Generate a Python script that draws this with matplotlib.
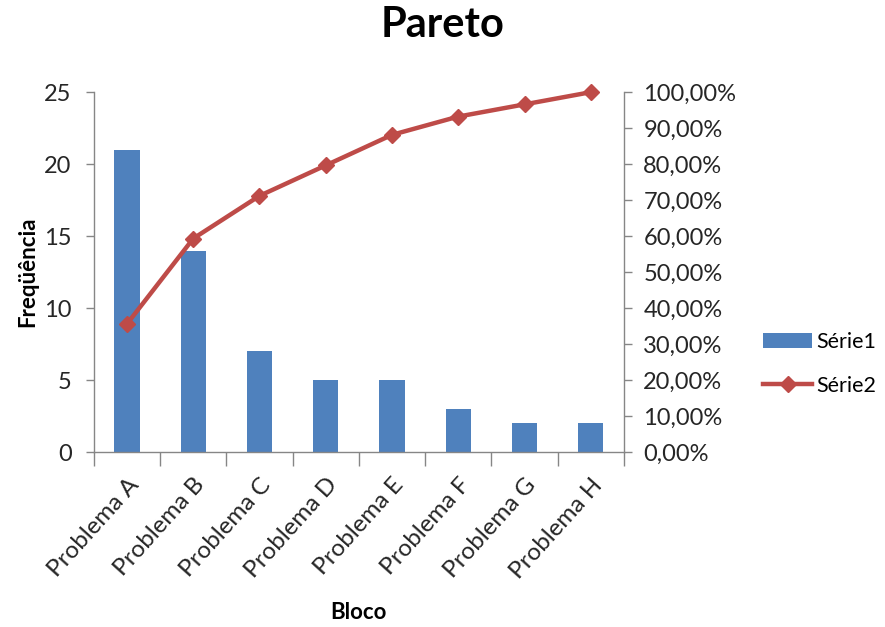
import matplotlib
matplotlib.use("Agg")
import matplotlib.pyplot as plt
import numpy as np
from matplotlib.ticker import FuncFormatter, MultipleLocator

categories = ["Problema A", "Problema B", "Problema C", "Problema D",
              "Problema E", "Problema F", "Problema G", "Problema H"]
frequencia = [21, 14, 7, 5, 5, 3, 2, 2]
acumulado = [35.59, 59.32, 71.19, 79.66, 88.14, 93.22, 96.61, 100.00]

plt.rcParams['font.family'] = ['Lato', 'DejaVu Sans']

bar_color = "#4F81BD"
line_color = "#BE4B48"
axis_gray = "#868686"
text_color = "#262626"

fig = plt.figure(figsize=(8.85, 6.27), dpi=100)
ax = fig.add_axes([0.106, 0.279, 0.599, 0.574])
x = np.arange(len(categories))

b = ax.bar(x, frequencia, width=0.38, color=bar_color, label="Série1", zorder=2)
ax.set_xlim(-0.5, len(categories) - 0.5)
ax.set_ylim(0, 25)
ax.yaxis.set_major_locator(MultipleLocator(5))

ax2 = ax.twinx()
l, = ax2.plot(x, acumulado, color=line_color, lw=3.2, marker="D", ms=8,
              label="Série2", zorder=3, clip_on=False)
ax2.set_ylim(0, 100)
ax2.yaxis.set_major_locator(MultipleLocator(10))
ax2.yaxis.set_major_formatter(FuncFormatter(lambda v, p: f"{v:.2f}%".replace(".", ",")))

for a in (ax, ax2):
    a.spines["top"].set_visible(False)
    for s in ("left", "right", "bottom"):
        a.spines[s].set_color(axis_gray)
        a.spines[s].set_linewidth(1)
    a.tick_params(colors=axis_gray, labelcolor=text_color, labelsize=17,
                  length=6, width=1, direction="out")

ax.spines["right"].set_visible(False)
ax2.spines["left"].set_visible(False)
ax2.spines["bottom"].set_visible(False)
ax.tick_params(axis="y", pad=10)
ax2.tick_params(axis="y", pad=8)

# category boundaries as tick marks, labels centered on bars
ax.set_xticks(np.arange(-0.5, len(categories), 1.0))
ax.set_xticklabels([])
ax.set_xticks(x, minor=True)
ax.set_xticklabels(categories, minor=True, rotation=48, ha="right",
                   rotation_mode="anchor", fontsize=17.5, color=text_color)
ax.tick_params(axis="x", which="minor", length=0, pad=16)
ax.tick_params(axis="x", which="major", length=10)

ax.set_ylabel("Freqüência", fontsize=16, fontweight="bold", color="black", labelpad=4)
ax.set_xlabel("Bloco", fontsize=16, fontweight="bold", color="black", labelpad=14)
fig.suptitle("Pareto", fontsize=30, fontweight="bold", y=0.99)

fig.legend(handles=[b, l], labels=["Série1", "Série2"], loc="center left",
           bbox_to_anchor=(0.862, 0.42), frameon=False, fontsize=15.5,
           handlelength=2.3, labelspacing=1.1, handletextpad=0.2,
           borderaxespad=0, borderpad=0)

fig.savefig("out.png", dpi=100)
